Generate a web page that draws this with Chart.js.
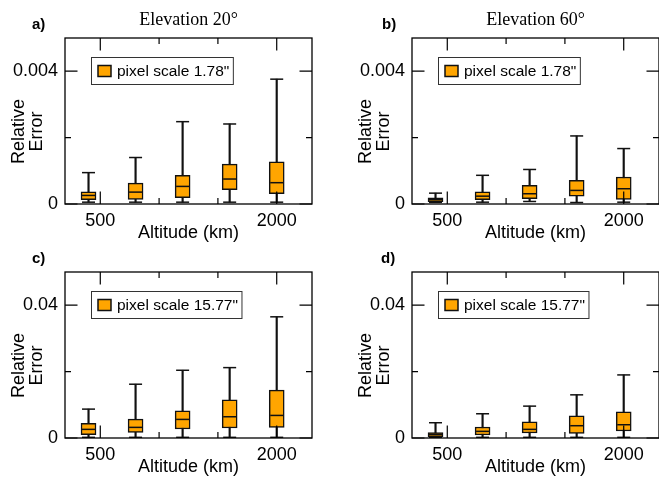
<!DOCTYPE html>
<html>
<head>
<meta charset="utf-8">
<script src="https://cdn.jsdelivr.net/npm/chart.js@4.4.1/dist/chart.umd.min.js"></script>
<style>
  html, body { margin: 0; padding: 0; background: #fff; overflow: hidden; width: 659px; height: 479px; }
  .panel { position: absolute; width: 330px; height: 250px; }
</style>
</head>
<body>
<div class="panel" style="left:0px;top:0px"><canvas id="pa" width="330" height="250"></canvas></div>
<div class="panel" style="left:347px;top:0px"><canvas id="pb" width="330" height="250"></canvas></div>
<div class="panel" style="left:0px;top:234px"><canvas id="pc" width="330" height="250"></canvas></div>
<div class="panel" style="left:347px;top:234px"><canvas id="pd" width="330" height="250"></canvas></div>
<script>
// altitudes of the five boxes (km) and the x tick marks
var altitudes = [400, 800, 1200, 1600, 2000];
var xMajorTicks = [500, 2000];
var xMinorTicks = [1000, 1500];

// y ticks, top row (pixel scale 1.78") and bottom row (15.77")
var yMaxTop = 0.005, yMajorTop = [0, 0.004], yMinorTop = [0.002];
var yMaxBottom = 0.05, yMajorBottom = [0, 0.04], yMinorBottom = [0.02];

// a) elevation 20, pixel scale 1.78"
var aLow  = [0.000055, 0.000055, 0.000055, 0.000055, 0.000055];
var aQ1   = [0.000127, 0.000136, 0.000188, 0.00043, 0.000309];
var aMed  = [0.000258, 0.000358, 0.00053, 0.000752, 0.000642];
var aQ3   = [0.00037, 0.00063, 0.000864, 0.0012, 0.00127];
var aHigh = [0.000945, 0.0014, 0.00248, 0.00241, 0.00376];

// b) elevation 60, pixel scale 1.78"
var bLow  = [0.00005, 0.000055, 0.000076, 0.000045, 0.000055];
var bQ1   = [0.000067, 0.000127, 0.000158, 0.000236, 0.000136];
var bMed  = [0.000136, 0.000236, 0.000309, 0.000409, 0.00046];
var bQ3   = [0.000188, 0.00037, 0.00056, 0.000712, 0.000812];
var bHigh = [0.000327, 0.000864, 0.00104, 0.00205, 0.00167];

// c) elevation 20, pixel scale 15.77"
var cLow  = [0.0002, 0.0002, 0.0002, 0.0002, 0.0002];
var cQ1   = [0.001, 0.0017, 0.0027, 0.003, 0.0032];
var cMed  = [0.0026, 0.0032, 0.0056, 0.0064, 0.0068];
var cQ3   = [0.0044, 0.0057, 0.0082, 0.0115, 0.0144];
var cHigh = [0.0087, 0.0162, 0.0204, 0.0212, 0.0365];

// d) elevation 60, pixel scale 15.77"
var dLow  = [0.0002, 0.0002, 0.0002, 0.0002, 0.0002];
var dQ1   = [0.0004, 0.0009, 0.0015, 0.0014, 0.0021];
var dMed  = [0.0011, 0.002, 0.0026, 0.0037, 0.004];
var dQ3   = [0.0016, 0.0033, 0.0049, 0.0067, 0.0079];
var dHigh = [0.0046, 0.0073, 0.0096, 0.013, 0.019];

var sans = '"Liberation Sans", Arial, Helvetica, sans-serif';
var serif = '"Liberation Serif", "Times New Roman", serif';
var boxColor = '#FFA500';
var ink = '#111';

function pts(xs, ys) {
  return xs.map(function(x, i) { return {x: x, y: ys[i]}; });
}
function bars(xs, lo, hi) {
  return xs.map(function(x, i) { return {x: x, y: [lo[i], hi[i]]}; });
}

// frame with inward ticks, boxed legend, y title, panel letter and heading
var panelDecor = {
  id: 'panelDecor',
  afterDraw: function(chart) {
    var o = chart.options.plugins.panelDecor;
    var ctx = chart.ctx, a = chart.chartArea;
    var xs = chart.scales.x, ys = chart.scales.y;
    ctx.save();

    ctx.strokeStyle = '#000';
    ctx.lineWidth = 1.3;
    ctx.strokeRect(a.left, a.top, a.right - a.left, a.bottom - a.top);

    ctx.lineWidth = 1.2;
    ctx.beginPath();
    function xt(v, len) {
      var p = xs.getPixelForValue(v);
      ctx.moveTo(p, a.bottom); ctx.lineTo(p, a.bottom - len);
      ctx.moveTo(p, a.top); ctx.lineTo(p, a.top + len);
    }
    function yt(v, len) {
      var p = ys.getPixelForValue(v);
      ctx.moveTo(a.left, p); ctx.lineTo(a.left + len, p);
      ctx.moveTo(a.right, p); ctx.lineTo(a.right - len, p);
    }
    xMajorTicks.forEach(function(v) { xt(v, 12.5); });
    xMinorTicks.forEach(function(v) { xt(v, 6); });
    o.yMajor.forEach(function(v) { yt(v, 12.5); });
    o.yMinor.forEach(function(v) { yt(v, 6); });
    ctx.stroke();

    // legend
    var ds = chart.data.datasets[1];
    ctx.font = '15.5px ' + sans;
    var tw = ctx.measureText(ds.label).width;
    var lx = a.left + 26.5, ly = a.top + 19.5, lh = 27;
    var lw = 6.5 + 13 + 6 + tw + 4;
    ctx.lineWidth = 1;
    ctx.strokeStyle = '#333';
    ctx.strokeRect(lx, ly, lw, lh);
    ctx.fillStyle = ds.backgroundColor;
    ctx.fillRect(lx + 6.5, ly + lh / 2 - 5.5, 13, 11);
    ctx.lineWidth = 1.5;
    ctx.strokeStyle = ink;
    ctx.strokeRect(lx + 6.5, ly + lh / 2 - 5.5, 13, 11);
    ctx.fillStyle = '#000';
    ctx.textAlign = 'left';
    ctx.textBaseline = 'middle';
    ctx.fillText(ds.label, lx + 6.5 + 13 + 6, ly + lh / 2 + 0.5);

    // y axis title, two lines
    ctx.font = '18px ' + sans;
    ctx.textAlign = 'center';
    ctx.save();
    ctx.translate(18.7, 131.5);
    ctx.rotate(-Math.PI / 2);
    ctx.fillText('Relative', 0, 0);
    ctx.restore();
    ctx.save();
    ctx.translate(36.7, 131.5);
    ctx.rotate(-Math.PI / 2);
    ctx.fillText('Error', 0, 0);
    ctx.restore();

    // panel letter and heading
    ctx.font = 'bold 15px ' + sans;
    ctx.textAlign = 'left';
    ctx.fillText(o.letter, o.letterX, 25);
    if (o.heading) {
      ctx.font = '18px ' + serif;
      ctx.textAlign = 'center';
      ctx.fillText(o.heading, (a.left + a.right) / 2, 20);
    }
    ctx.restore();
  }
};

function makePanel(id, p) {
  return new Chart(document.getElementById(id), {
    type: 'bar',
    data: {
      datasets: [
        {type: 'bar', label: 'whisker', data: bars(altitudes, p.low, p.high),
         backgroundColor: ink, borderWidth: 0, barThickness: 1.5, grouped: false, order: 3},
        {type: 'bar', label: p.legend, data: bars(altitudes, p.q1, p.q3),
         backgroundColor: boxColor, borderColor: ink, borderWidth: 1.5, borderSkipped: false,
         barThickness: 15, grouped: false, order: 2},
        {type: 'line', label: 'caps', data: pts(altitudes, p.low).concat(pts(altitudes, p.high)),
         showLine: false, pointStyle: 'line', pointRadius: 6.5, pointBorderWidth: 1.5,
         pointBorderColor: ink, order: 1},
        {type: 'line', label: 'median', data: pts(altitudes, p.med),
         showLine: false, pointStyle: 'line', pointRadius: 6.5, pointBorderWidth: 1.5,
         pointBorderColor: ink, order: 0}
      ]
    },
    options: {
      responsive: false,
      animation: false,
      events: [],
      layout: {padding: {top: 38, right: 18, left: 0, bottom: 0}},
      plugins: {
        legend: {display: false},
        tooltip: {enabled: false},
        panelDecor: {letter: p.letter, letterX: p.letterX, heading: p.heading,
                     yMajor: p.yMajor, yMinor: p.yMinor}
      },
      scales: {
        x: {
          type: 'linear', min: 200, max: 2300, offset: false,
          grid: {display: false, drawTicks: false, offset: false},
          border: {display: false},
          afterBuildTicks: function(s) { s.ticks = xMajorTicks.map(function(v) { return {value: v}; }); },
          afterFit: function(s) { s.height = 46; },
          ticks: {autoSkip: false, maxRotation: 0, padding: 6, color: '#000',
                  font: {family: sans, size: 18},
                  callback: function(v) { return String(v); }},
          title: {display: true, text: 'Altitude (km)', color: '#000',
                  font: {family: sans, size: 18, lineHeight: 1},
                  padding: {top: 0, bottom: 7.5}}
        },
        y: {
          min: 0, max: p.yMax,
          grid: {display: false, drawTicks: false},
          border: {display: false},
          afterBuildTicks: function(s) { s.ticks = p.yMajor.map(function(v) { return {value: v}; }); },
          afterFit: function(s) { s.width = 65; },
          ticks: {autoSkip: false, padding: 7, color: '#000',
                  font: {family: sans, size: 18},
                  callback: function(v) { return String(v); }}
        }
      }
    },
    plugins: [panelDecor]
  });
}

makePanel('pa', {low: aLow, q1: aQ1, med: aMed, q3: aQ3, high: aHigh,
  legend: 'pixel scale 1.78"', letter: 'a)', letterX: 32, heading: 'Elevation 20\u00b0',
  yMax: yMaxTop, yMajor: yMajorTop, yMinor: yMinorTop});
makePanel('pb', {low: bLow, q1: bQ1, med: bMed, q3: bQ3, high: bHigh,
  legend: 'pixel scale 1.78"', letter: 'b)', letterX: 35, heading: 'Elevation 60\u00b0',
  yMax: yMaxTop, yMajor: yMajorTop, yMinor: yMinorTop});
makePanel('pc', {low: cLow, q1: cQ1, med: cMed, q3: cQ3, high: cHigh,
  legend: 'pixel scale 15.77"', letter: 'c)', letterX: 32, heading: '',
  yMax: yMaxBottom, yMajor: yMajorBottom, yMinor: yMinorBottom});
makePanel('pd', {low: dLow, q1: dQ1, med: dMed, q3: dQ3, high: dHigh,
  legend: 'pixel scale 15.77"', letter: 'd)', letterX: 34, heading: '',
  yMax: yMaxBottom, yMajor: yMajorBottom, yMinor: yMinorBottom});
</script>
</body>
</html>
